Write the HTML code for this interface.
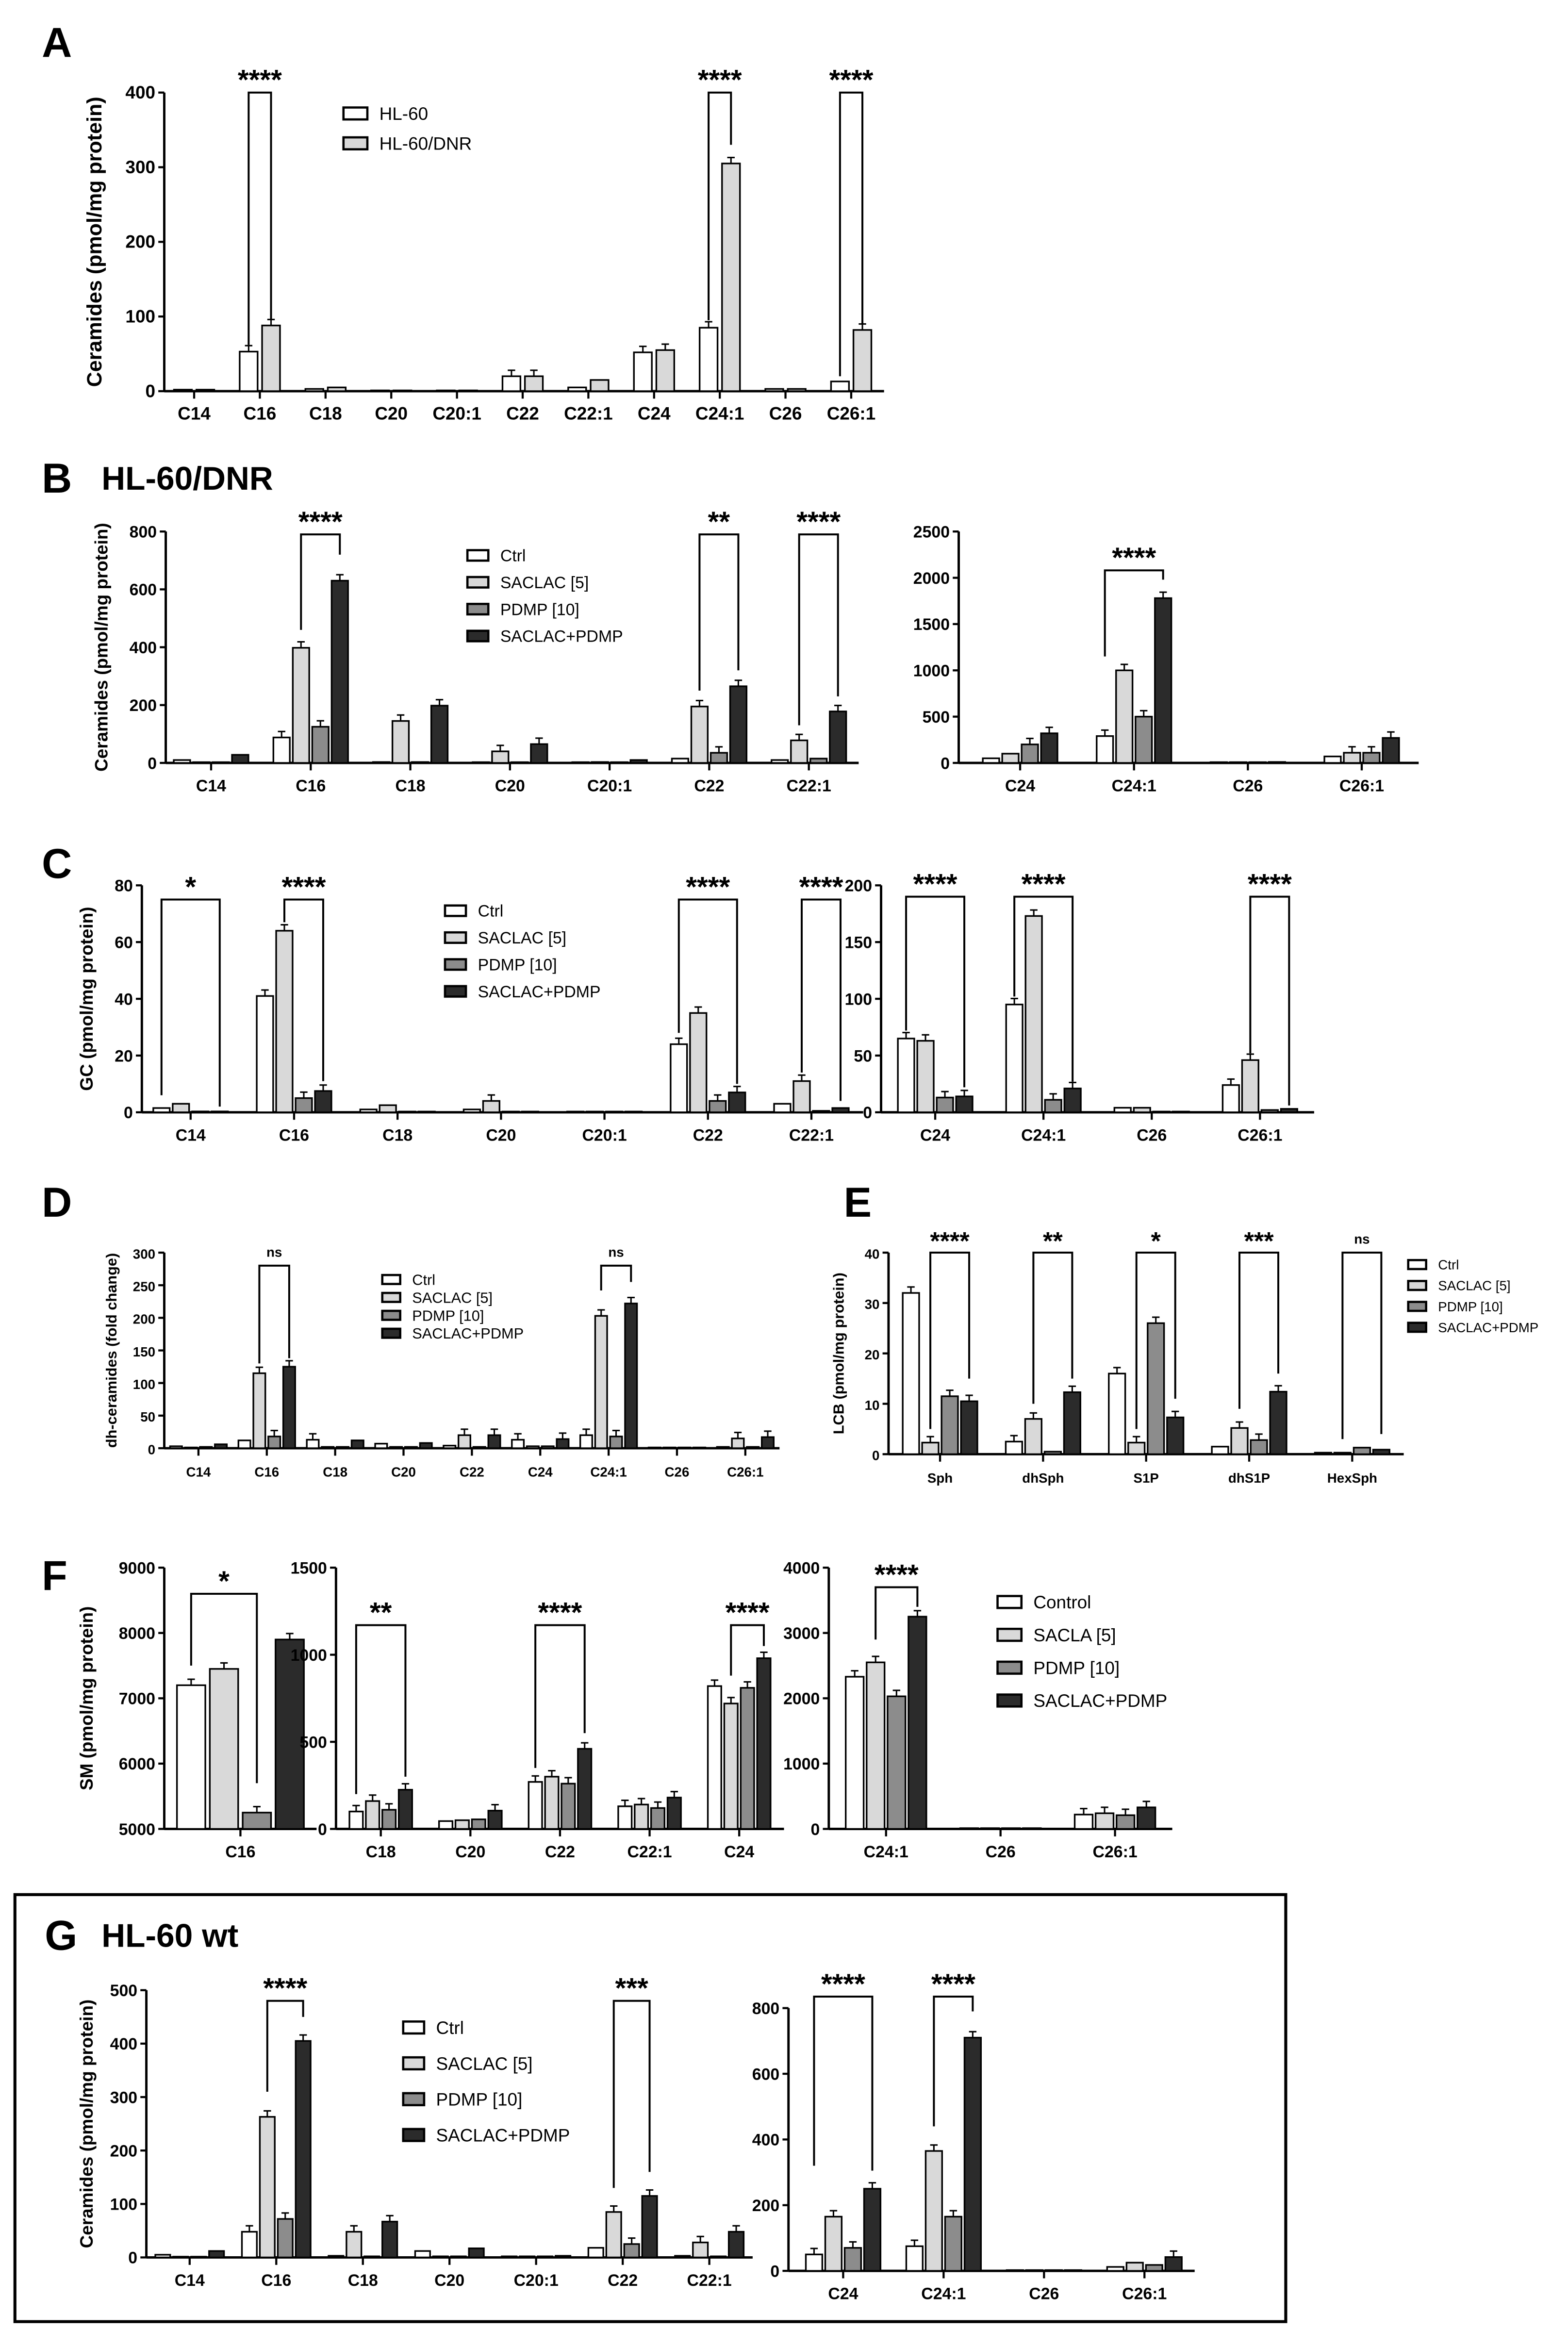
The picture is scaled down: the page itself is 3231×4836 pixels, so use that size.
<!DOCTYPE html>
<html><head><meta charset="utf-8">
<style>
html,body{margin:0;padding:0;background:#fff;}
svg{display:block;}
text{font-family:"Liberation Sans",sans-serif;font-weight:bold;fill:#000;}
</style></head>
<body>
<svg id="fig" width="3231" height="4836" viewBox="0 0 1050 1572" preserveAspectRatio="none" xmlns="http://www.w3.org/2000/svg">
<rect x="0" y="0" width="1050" height="1572" fill="#fff"/>
<rect x="10" y="1269" width="851" height="286" fill="none" stroke="#000" stroke-width="2"/>
<text x="28" y="38" font-size="28">A</text>
<text x="28" y="330" font-size="28">B</text>
<text x="68" y="328" font-size="22">HL-60/DNR</text>
<text x="28" y="588" font-size="28">C</text>
<text x="28" y="815" font-size="28">D</text>
<text x="565" y="815" font-size="28">E</text>
<text x="28" y="1065" font-size="28">F</text>
<text x="30" y="1306" font-size="28">G</text>
<text x="68" y="1304" font-size="22">HL-60 wt</text>
</svg>
<script>
const COLORS=["#ffffff","#d9d9d9","#8c8c8c","#2b2b2b"];
// ---- Data arrays ----
const catsA=["C14","C16","C18","C20","C20:1","C22","C22:1","C24","C24:1","C26","C26:1"];
const hl60A=[2,53,3,0.5,0.5,20,5,52,85,3,13];
const dnrA=[2,88,5,0.5,0.5,20,15,55,305,3,82];
const ticksA=[0,100,200,300,400];

const catsB1=["C14","C16","C18","C20","C20:1","C22","C22:1"];
const ctrlB1=[10,88,3,2,2,15,10];
const saclacB1=[2,398,145,40,3,195,78];
const pdmpB1=[2,125,3,2,2,35,15];
const comboB1=[28,630,198,65,10,265,178];
const ticksB1=[0,200,400,600,800];
const catsB2=["C24","C24:1","C26","C26:1"];
const ctrlB2=[50,290,5,70];
const saclacB2=[100,1000,5,110];
const pdmpB2=[200,500,5,110];
const comboB2=[320,1780,10,270];
const ticksB2=[0,500,1000,1500,2000,2500];

const catsC1=["C14","C16","C18","C20","C20:1","C22","C22:1"];
const ctrlC1=[1.5,41,1,1,0.2,24,3];
const saclacC1=[3,64,2.5,4,0.2,35,11];
const pdmpC1=[0.3,5,0.2,0.2,0.2,4,0.5];
const comboC1=[0.3,7.5,0.2,0.2,0.2,7,1.5];
const ticksC1=[0,20,40,60,80];
const catsC2=["C24","C24:1","C26","C26:1"];
const ctrlC2=[65,95,4,24];
const saclacC2=[63,173,4,46];
const pdmpC2=[13,11,0.5,2];
const comboC2=[14,21,0.5,3];
const ticksC2=[0,50,100,150,200];

const catsD=["C14","C16","C18","C20","C22","C24","C24:1","C26","C26:1"];
const ctrlD=[3,12,13,7,4,13,20,1,2];
const saclacD=[1,115,2,2,20,3,203,1,15];
const pdmpD=[2,18,2,2,2,3,18,1,2];
const comboD=[6,125,12,8,20,14,222,1,17];
const ticksD=[0,50,100,150,200,250,300];

const catsE=["Sph","dhSph","S1P","dhS1P","HexSph"];
const ctrlE=[32,2.5,16,1.5,0.3];
const saclacE=[2.3,7,2.3,5.2,0.3];
const pdmpE=[11.5,0.5,26,2.8,1.3];
const comboE=[10.5,12.3,7.3,12.4,0.9];
const ticksE=[0,10,20,30,40];

const catsF1=["C16"];
const ctrlF1=[7200];const saclacF1=[7450];const pdmpF1=[5250];const comboF1=[7900];
const ticksF1=[5000,6000,7000,8000,9000];
const catsF2=["C18","C20","C22","C22:1","C24"];
const ctrlF2=[100,45,270,130,820];
const saclacF2=[160,50,300,140,720];
const pdmpF2=[110,55,260,120,810];
const comboF2=[225,105,460,180,980];
const ticksF2=[0,500,1000,1500];
const catsF3=["C24:1","C26","C26:1"];
const ctrlF3=[2330,10,220];
const saclacF3=[2550,10,240];
const pdmpF3=[2030,10,210];
const comboF3=[3250,10,330];
const ticksF3=[0,1000,2000,3000,4000];

const catsG1=["C14","C16","C18","C20","C20:1","C22","C22:1"];
const ctrlG1=[5,48,3,12,2,18,3];
const saclacG1=[1,263,48,2,2,85,28];
const pdmpG1=[1,72,2,2,2,25,2];
const comboG1=[12,405,67,17,3,115,48];
const ticksG1=[0,100,200,300,400,500];
const catsG2=["C24","C24:1","C26","C26:1"];
const ctrlG2=[50,75,2,12];
const saclacG2=[165,365,2,25];
const pdmpG2=[70,165,2,18];
const comboG2=[250,710,2,42];
const ticksG2=[0,200,400,600,800];

const svg=document.getElementById('fig');
const NS="http://www.w3.org/2000/svg";
function mk(tag,attrs,parent){const e=document.createElementNS(NS,tag);for(const k in attrs)e.setAttribute(k,attrs[k]);(parent||svg).appendChild(e);return e;}

function chart(c){
  const g=mk('g',{});
  
  
  const y=v=>c.y0-(v-c.min)/(c.max-c.min)*(c.y0-c.y1);
  const band=(c.x1-c.xs)/c.cats.length;
  const cx=i=>c.xs+band*(i+0.5);
  const n=c.series.length;
  const bw=c.bw, gap=c.gap;
  const bx=(i,s)=>cx(i)-(n*bw+(n-1)*gap)/2+s*(bw+gap);
  const ya=mk('line',{x1:c.ax,y1:y(c.max),x2:c.ax,y2:c.y0,stroke:'#000','stroke-width':1.6},g);
  
  const xa=mk('line',{x1:c.ax,y1:c.y0,x2:c.x1,y2:c.y0,stroke:'#000','stroke-width':1.6},g);
  
  c.ticks.forEach(t=>{
    mk('line',{x1:c.ax-4,y1:y(t),x2:c.ax,y2:y(t),stroke:'#000','stroke-width':1.4},g);
    const tx=mk('text',{x:c.ax-6,y:y(t)+4,'font-size':c.fs,'text-anchor':'end'},g);
    tx.textContent=t;
    
  });
  c.cats.forEach((cat,i)=>{
    mk('line',{x1:cx(i),y1:c.y0,x2:cx(i),y2:c.y0+5,stroke:'#000','stroke-width':1.4},g);
    const tx=mk('text',{x:cx(i),y:c.y0+19,'font-size':c.fs,'text-anchor':'middle'},g);
    tx.textContent=cat;
    
  });
  c.series.forEach((ser,s)=>{
    ser.forEach((v,i)=>{
      const top=y(v), h=Math.max(0.5,c.y0-top);
      const r=mk('rect',{x:bx(i,s),y:c.y0-h,width:bw,height:h,fill:COLORS[s],stroke:'#000','stroke-width':1.1},g);
      
      
      if(v>(c.max-c.min)*0.04){
        const mx=bx(i,s)+bw/2;
        mk('line',{x1:mx,y1:c.y0-h,x2:mx,y2:c.y0-h-4,stroke:'#000','stroke-width':1},g);
        mk('line',{x1:mx-2.5,y1:c.y0-h-4,x2:mx+2.5,y2:c.y0-h-4,stroke:'#000','stroke-width':1},g);
      }
    });
  });
  (c.brackets||[]).forEach(b=>{
    const xa_=bx(b.cat,b.a)+bw/2, xb_=bx(b.cat,b.b)+bw/2;
    const ty=y(b.level);
    const p=mk('path',{d:`M${xa_},${y(b.la)}L${xa_},${ty}L${xb_},${ty}L${xb_},${y(b.lb)}`,fill:'none',stroke:'#000','stroke-width':1.3},g);
    
    const isNs=b.label==='ns';
    const t=mk('text',{x:(xa_+xb_)/2,y:isNs?ty-6:ty-2,'font-size':isNs?c.fs:(c.sfs||19),'text-anchor':'middle'},g);
    t.textContent=b.label;
    
  });
  if(c.ylabel){
    const lx=c.ylx, ly=(c.y0+y(c.max))/2;
    const t=mk('text',{x:lx,y:ly,'font-size':c.lfs||13,'text-anchor':'middle',transform:`rotate(-90 ${lx} ${ly})`},g);
    t.textContent=c.ylabel;
    
  }
}
function legend(name,x,y0,dy,labels,fs,sw,sh){
  const g=mk('g',{});
  
  labels.forEach((l,i)=>{
    mk('rect',{x:x,y:y0+i*dy-sh/2,width:sw,height:sh,fill:COLORS[i],stroke:'#000','stroke-width':1.5},g);
    const t=mk('text',{x:x+sw+8,y:y0+i*dy+fs*0.36,'font-size':fs},g);
    t.style.fontWeight='normal';
    t.textContent=l;
    
  });
}
const L4=["Ctrl","SACLAC [5]","PDMP [10]","SACLAC+PDMP"];

// A
chart({name:'chart-a',cats:catsA,series:[hl60A,dnrA],ticks:ticksA,min:0,max:400,ax:110,xs:108,x1:592,y0:262,y1:62,bw:12,gap:3,fs:12,
  ylabel:'Ceramides (pmol/mg protein)',ylx:68,lfs:14,
  brackets:[{cat:1,a:0,b:1,level:400,la:62,lb:96,label:'****'},{cat:8,a:0,b:1,level:400,la:95,lb:330,label:'****'},{cat:10,a:0,b:1,level:400,la:20,lb:90,label:'****'}]});
legend('legend-a',230,76,20,["HL-60","HL-60/DNR"],12,16,8);

// B
chart({name:'chart-b-left',cats:catsB1,series:[ctrlB1,saclacB1,pdmpB1,comboB1],ticks:ticksB1,min:0,max:800,ax:111,xs:108,x1:575,y0:511,y1:356,bw:11,gap:2,fs:11,
  ylabel:'Ceramides (pmol/mg protein)',ylx:72,lfs:12,
  brackets:[{cat:1,a:1,b:3,level:790,la:460,lb:720,label:'****'},{cat:5,a:1,b:3,level:790,la:250,lb:320,label:'**'},{cat:6,a:1,b:3,level:790,la:130,lb:230,label:'****'}]});
chart({name:'chart-b-right',cats:catsB2,series:[ctrlB2,saclacB2,pdmpB2,comboB2],ticks:ticksB2,min:0,max:2500,ax:642,xs:645,x1:950,y0:511,y1:356,bw:11,gap:2,fs:11,
  brackets:[{cat:1,a:0,b:3,level:2080,la:1150,lb:1980,label:'****'}]});
legend('legend-b',313,372,18,L4,11,14,7);

// C
chart({name:'chart-c-left',cats:catsC1,series:[ctrlC1,saclacC1,pdmpC1,comboC1],ticks:ticksC1,min:0,max:80,ax:95,xs:93,x1:578,y0:745,y1:593,bw:11,gap:2,fs:11,
  ylabel:'GC (pmol/mg protein)',ylx:62,lfs:12,
  brackets:[{cat:0,a:0,b:3,level:75,la:6,lb:2,label:'*'},{cat:1,a:1,b:3,level:75,la:67,lb:11,label:'****'},{cat:5,a:0,b:3,level:75,la:28,lb:10,label:'****'},{cat:6,a:1,b:3,level:75,la:14,lb:4,label:'****'}]});
chart({name:'chart-c-right',cats:catsC2,series:[ctrlC2,saclacC2,pdmpC2,comboC2],ticks:ticksC2,min:0,max:200,ax:590,xs:590,x1:880,y0:745,y1:593,bw:11,gap:2,fs:11,
  brackets:[{cat:0,a:0,b:3,level:190,la:72,lb:22,label:'****'},{cat:1,a:0,b:3,level:190,la:102,lb:27,label:'****'},{cat:3,a:1,b:3,level:190,la:52,lb:6,label:'****'}]});
legend('legend-c',298,610,18,L4,11,14,7);

// D
chart({name:'chart-d',cats:catsD,series:[ctrlD,saclacD,pdmpD,comboD],ticks:ticksD,min:0,max:300,ax:110,xs:110,x1:522,y0:970,y1:839,bw:8,gap:2,fs:9,sfs:14,
  ylabel:'dh-ceramides (fold change)',ylx:78,lfs:10,
  brackets:[{cat:1,a:1,b:3,level:280,la:130,lb:138,label:'ns'},{cat:6,a:1,b:3,level:280,la:242,lb:255,label:'ns'}]});
legend('legend-d',256,857,12,L4,10,12,6);

// E
chart({name:'chart-e',cats:catsE,series:[ctrlE,saclacE,pdmpE,comboE],ticks:ticksE,min:0,max:40,ax:595,xs:595,x1:940,y0:974,y1:839,bw:11,gap:2,fs:9,sfs:17,
  ylabel:'LCB (pmol/mg protein)',ylx:565,lfs:10,
  brackets:[{cat:0,a:1,b:3,level:40,la:5,lb:15,label:'****'},{cat:1,a:1,b:3,level:40,la:10,lb:15,label:'**'},{cat:2,a:1,b:3,level:40,la:5,lb:11,label:'*'},{cat:3,a:1,b:3,level:40,la:9,lb:16,label:'***'},{cat:4,a:1,b:3,level:40,la:3,lb:4,label:'ns'}]});
legend('legend-e',943,847,14,L4,9,12,6);

// F
chart({name:'chart-f-c16',cats:catsF1,series:[ctrlF1,saclacF1,pdmpF1,comboF1],ticks:ticksF1,min:5000,max:9000,ax:110,xs:110,x1:212,y0:1225,y1:1050,bw:19,gap:3,fs:11,
  ylabel:'SM (pmol/mg protein)',ylx:62,lfs:12,
  brackets:[{cat:0,a:0,b:2,level:8600,la:7500,lb:5700,label:'*'}]});
chart({name:'chart-f-middle',cats:catsF2,series:[ctrlF2,saclacF2,pdmpF2,comboF2],ticks:ticksF2,min:0,max:1500,ax:225,xs:225,x1:525,y0:1225,y1:1050,bw:9,gap:2,fs:11,
  brackets:[{cat:0,a:0,b:3,level:1170,la:200,lb:300,label:'**'},{cat:2,a:0,b:3,level:1170,la:350,lb:550,label:'****'},{cat:4,a:1,b:3,level:1170,la:880,lb:1050,label:'****'}]});
chart({name:'chart-f-right',cats:catsF3,series:[ctrlF3,saclacF3,pdmpF3,comboF3],ticks:ticksF3,min:0,max:4000,ax:555,xs:555,x1:785,y0:1225,y1:1050,bw:12,gap:2,fs:11,
  brackets:[{cat:0,a:1,b:3,level:3700,la:2900,lb:3400,label:'****'}]});
legend('legend-f',668,1073,22,["Control","SACLA [5]","PDMP [10]","SACLAC+PDMP"],12,16,8);

// G
chart({name:'chart-g-left',cats:catsG1,series:[ctrlG1,saclacG1,pdmpG1,comboG1],ticks:ticksG1,min:0,max:500,ax:98,xs:98,x1:504,y0:1512,y1:1333,bw:10,gap:2,fs:11,
  ylabel:'Ceramides (pmol/mg protein)',ylx:62,lfs:12,
  brackets:[{cat:1,a:1,b:3,level:480,la:310,lb:450,label:'****'},{cat:5,a:1,b:3,level:480,la:130,lb:160,label:'***'}]});
chart({name:'chart-g-right',cats:catsG2,series:[ctrlG2,saclacG2,pdmpG2,comboG2],ticks:ticksG2,min:0,max:800,ax:528,xs:531,x1:800,y0:1521,y1:1345,bw:11,gap:2,fs:11,
  brackets:[{cat:0,a:0,b:3,level:835,la:320,lb:305,label:'****'},{cat:1,a:1,b:3,level:835,la:440,lb:790,label:'****'}]});
legend('legend-g',270,1358,24,L4,12,14,8);
</script>
</body></html>
